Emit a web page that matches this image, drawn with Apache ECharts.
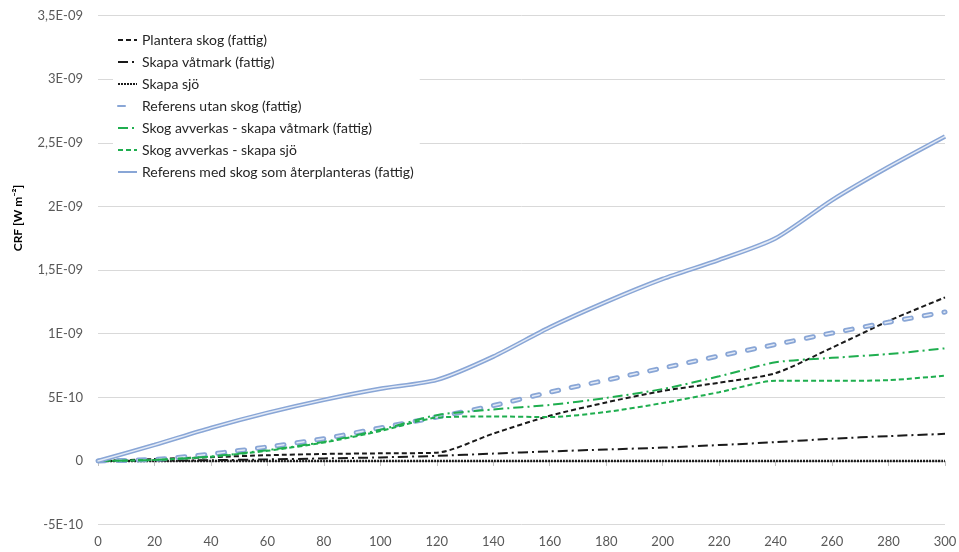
<!DOCTYPE html>
<html>
<head>
<meta charset="utf-8">
<script src="https://cdn.jsdelivr.net/npm/echarts@6/dist/echarts.min.js"></script>
<style>html,body{margin:0;padding:0;background:#fff}#c{width:959px;height:552px}</style>
</head>
<body>
<div id="c"></div>
<script>
var years = [0,20,40,60,80,100,120,140,160,180,200,220,240,260,280,300];
var planteraSkog = [0,1.5e-11,3e-11,4.5e-11,5.5e-11,6e-11,6.5e-11,2.15e-10,3.55e-10,4.6e-10,5.5e-10,6.15e-10,6.9e-10,8.9e-10,1.1e-9,1.285e-9];
var skapaVatmark = [0,2e-12,6e-12,1.2e-11,2e-11,2.8e-11,4e-11,5.8e-11,7.5e-11,9e-11,1.05e-10,1.25e-10,1.48e-10,1.75e-10,1.95e-10,2.13e-10];
var skapaSjo = [0,0,0,0,0,0,0,0,0,0,0,0,0,0,0,0];
var refUtanSkog = [0,1.2e-11,5.5e-11,1.1e-10,1.75e-10,2.6e-10,3.45e-10,4.35e-10,5.4e-10,6.35e-10,7.3e-10,8.25e-10,9.15e-10,1.005e-9,1.09e-9,1.17e-9];
var avverkasVatmark = [0,8e-12,3.5e-11,8.5e-11,1.5e-10,2.45e-10,3.6e-10,4.05e-10,4.4e-10,4.95e-10,5.65e-10,6.65e-10,7.75e-10,8.1e-10,8.4e-10,8.85e-10];
var avverkasSjo = [0,8e-12,3.3e-11,8e-11,1.45e-10,2.35e-10,3.4e-10,3.5e-10,3.45e-10,3.85e-10,4.55e-10,5.4e-10,6.3e-10,6.3e-10,6.35e-10,6.7e-10];
var refMedSkog = [0,1.26e-10,2.6e-10,3.78e-10,4.8e-10,5.67e-10,6.37e-10,8.2e-10,1.05e-9,1.25e-9,1.43e-9,1.58e-9,1.75e-9,2.05e-9,2.31e-9,2.55e-9];
var yTickValues = [-5e-10,0,5e-10,1e-9,1.5e-9,2e-9,2.5e-9,3e-9,3.5e-9];
var yTickLabels = ['-5E-10','0','5E-10','1E-09','1,5E-09','2E-09','2,5E-09','3E-09','3,5E-09'];
var names = ['Plantera skog (fattig)','Skapa våtmark (fattig)','Skapa sjö','Referens utan skog (fattig)','Skog avverkas - skapa våtmark (fattig)','Skog avverkas - skapa sjö','Referens med skog som återplanteras (fattig)'];

function pairs(arr){ return years.map(function(x,i){ return [x, arr[i]]; }); }
function mk(name, arr, color, width, type, extra){
  var s = {name:name, type:'line', data:pairs(arr), symbol:'none', showSymbol:false, smooth:0.25,
    lineStyle:{color:color, width:width, type:type}, itemStyle:{color:color}, emphasis:{disabled:true}, animation:false};
  if (extra) for (var k in extra) s.lineStyle[k]=extra[k];
  return s;
}
var green = '#1fae4f';
var blueOuter = '#89a6d6';
var blueInner = '#e3eaf6';
var series = [
  mk(names[0], planteraSkog, '#1a1a1a', 2, [5,3]),
  mk(names[1], skapaVatmark, '#1a1a1a', 2, [10,4,2,4]),
  mk(names[2], skapaSjo, '#1a1a1a', 2.5, [2,1]),
  mk(names[3], refUtanSkog, blueOuter, 5, [7,13], {cap:'round'}),
  mk('_ref_utan_inner', refUtanSkog, blueInner, 1.5, [7,13], {cap:'round'}),
  mk(names[4], avverkasVatmark, green, 2, [10,4,2,4]),
  mk(names[5], avverkasSjo, green, 2, [5,3]),
  mk(names[6], refMedSkog, blueOuter, 4.5, 'solid'),
  mk('_ref_med_inner', refMedSkog, blueInner, 1.5, 'solid')
];

var chart = echarts.init(document.getElementById('c'), null, {renderer:'canvas'});
chart.setOption({
  animation:false,
  backgroundColor:'#fff',
  grid:{left:98, right:14, top:15.5, bottom:27.4, containLabel:false, outerBoundsMode:'none'},
  legend:{
    data:names, orient:'vertical', left:113, top:31, itemWidth:19, itemHeight:10, itemGap:8,
    backgroundColor:'#fff', padding:[2,6,2,4],
    itemStyle:{opacity:0},
    textStyle:{fontFamily:'Lato', fontSize:14, color:'#262626'}
  },
  xAxis:[{
    type:'value', min:0, max:300, interval:20, position:'bottom',
    axisLine:{show:false, onZero:false},
    axisTick:{show:false},
    splitLine:{show:false},
    axisLabel:{margin:11, fontFamily:'Lato', fontSize:13, color:'#595959'}
  },{
    type:'value', min:0, max:300, interval:20, position:'bottom',
    axisLine:{show:true, onZero:true, lineStyle:{color:'#bfbfbf', width:1}},
    axisTick:{show:true, length:5, lineStyle:{color:'#bfbfbf'}},
    splitLine:{show:false},
    axisLabel:{show:false}
  }],
  yAxis:{
    type:'value', min:-5e-10, max:3.5e-9, interval:5e-10,
    name:'CRF [W m⁻²]', nameLocation:'middle', nameGap:74, nameRotate:90,
    nameTextStyle:{fontFamily:'Lato', fontWeight:'bold', fontSize:12, color:'#000', padding:[0,0,0,104]},
    axisLine:{show:false}, axisTick:{show:false},
    splitLine:{lineStyle:{color:'#d9d9d9', width:1}},
    axisLabel:{margin:15, fontFamily:'Lato', fontSize:13, color:'#595959',
      formatter:function(v){
        for (var i=0;i<yTickValues.length;i++){ if (Math.abs(v-yTickValues[i])<1e-13) return yTickLabels[i]; }
        return '';
      }}
  },
  series:series
});
</script>
</body>
</html>
